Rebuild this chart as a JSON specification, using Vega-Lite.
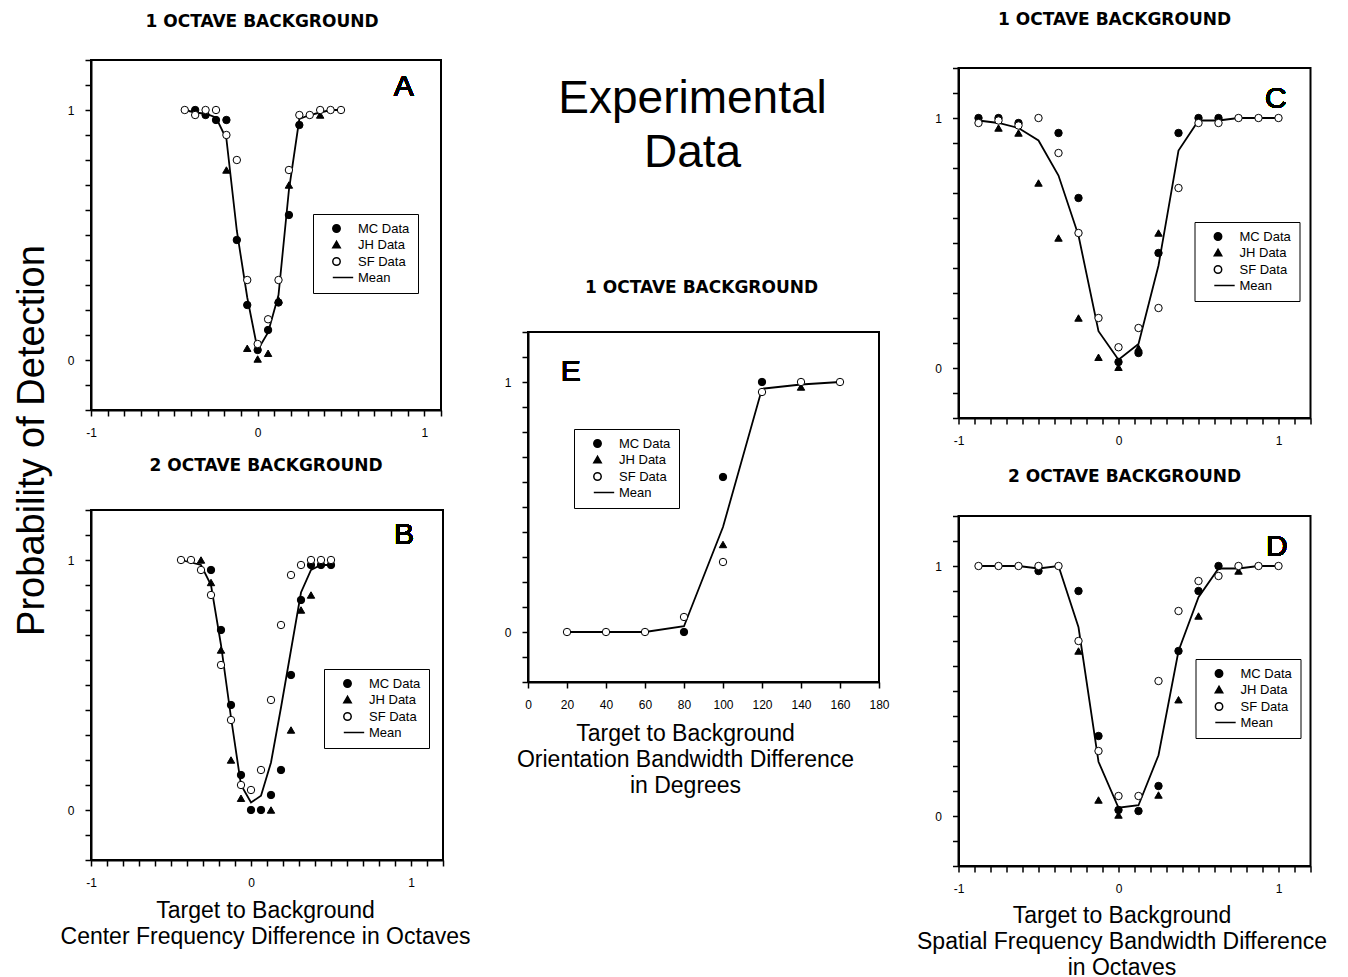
{
"$schema": "https://vega.github.io/schema/vega-lite/v6.json",
"padding": {"left": 12, "top": 10, "right": 5, "bottom": 2},
"datasets": {
"A": [
{"x":-0.4375,"y":1.0,"series":"Mean"},{"x":-0.375,"y":0.99,"series":"Mean"},{"x":-0.3125,"y":0.985,"series":"Mean"},{"x":-0.25,"y":0.97,"series":"Mean"},{"x":-0.1875,"y":0.884,"series":"Mean"},{"x":-0.125,"y":0.517,"series":"Mean"},{"x":-0.0625,"y":0.25,"series":"Mean"},{"x":0,"y":0.04,"series":"Mean"},{"x":0.0625,"y":0.11,"series":"Mean"},{"x":0.125,"y":0.26,"series":"Mean"},{"x":0.1875,"y":0.68,"series":"Mean"},{"x":0.25,"y":0.964,"series":"Mean"},{"x":0.3125,"y":0.98,"series":"Mean"},{"x":0.375,"y":0.99,"series":"Mean"},{"x":0.4375,"y":1.0,"series":"Mean"},{"x":0.5,"y":1.0,"series":"Mean"},
{"x":-0.375,"y":1.0,"series":"MC Data"},{"x":-0.3125,"y":0.98,"series":"MC Data"},{"x":-0.25,"y":0.96,"series":"MC Data"},{"x":-0.1875,"y":0.96,"series":"MC Data"},{"x":-0.125,"y":0.48,"series":"MC Data"},{"x":-0.0625,"y":0.22,"series":"MC Data"},{"x":0,"y":0.04,"series":"MC Data"},{"x":0.0625,"y":0.12,"series":"MC Data"},{"x":0.125,"y":0.23,"series":"MC Data"},{"x":0.1875,"y":0.58,"series":"MC Data"},{"x":0.25,"y":0.94,"series":"MC Data"},
{"x":-0.1875,"y":0.76,"series":"JH Data"},{"x":-0.0625,"y":0.047,"series":"JH Data"},{"x":0,"y":0.004,"series":"JH Data"},{"x":0.0625,"y":0.027,"series":"JH Data"},{"x":0.125,"y":0.24,"series":"JH Data"},{"x":0.1875,"y":0.7,"series":"JH Data"},{"x":0.375,"y":0.98,"series":"JH Data"},
{"x":-0.4375,"y":1.0,"series":"SF Data"},{"x":-0.375,"y":0.98,"series":"SF Data"},{"x":-0.3125,"y":1.0,"series":"SF Data"},{"x":-0.25,"y":1.0,"series":"SF Data"},{"x":-0.1875,"y":0.9,"series":"SF Data"},{"x":-0.125,"y":0.8,"series":"SF Data"},{"x":-0.0625,"y":0.32,"series":"SF Data"},{"x":0,"y":0.064,"series":"SF Data"},{"x":0.0625,"y":0.163,"series":"SF Data"},{"x":0.125,"y":0.32,"series":"SF Data"},{"x":0.1875,"y":0.76,"series":"SF Data"},{"x":0.25,"y":0.98,"series":"SF Data"},{"x":0.3125,"y":0.98,"series":"SF Data"},{"x":0.375,"y":1.0,"series":"SF Data"},{"x":0.4375,"y":1.0,"series":"SF Data"},{"x":0.5,"y":1.0,"series":"SF Data"}
],
"B": [
{"x":-0.4375,"y":1.0,"series":"Mean"},{"x":-0.375,"y":0.99,"series":"Mean"},{"x":-0.3125,"y":0.98,"series":"Mean"},{"x":-0.25,"y":0.9,"series":"Mean"},{"x":-0.1875,"y":0.66,"series":"Mean"},{"x":-0.125,"y":0.37,"series":"Mean"},{"x":-0.0625,"y":0.1,"series":"Mean"},{"x":0,"y":0.03,"series":"Mean"},{"x":0.0625,"y":0.057,"series":"Mean"},{"x":0.125,"y":0.19,"series":"Mean"},{"x":0.1875,"y":0.41,"series":"Mean"},{"x":0.25,"y":0.64,"series":"Mean"},{"x":0.3125,"y":0.87,"series":"Mean"},{"x":0.375,"y":0.96,"series":"Mean"},{"x":0.4375,"y":0.98,"series":"Mean"},{"x":0.5,"y":0.98,"series":"Mean"},
{"x":-0.25,"y":0.96,"series":"MC Data"},{"x":-0.1875,"y":0.72,"series":"MC Data"},{"x":-0.125,"y":0.42,"series":"MC Data"},{"x":-0.0625,"y":0.14,"series":"MC Data"},{"x":0,"y":0.0,"series":"MC Data"},{"x":0.0625,"y":0.0,"series":"MC Data"},{"x":0.125,"y":0.06,"series":"MC Data"},{"x":0.1875,"y":0.16,"series":"MC Data"},{"x":0.25,"y":0.54,"series":"MC Data"},{"x":0.3125,"y":0.84,"series":"MC Data"},{"x":0.375,"y":0.98,"series":"MC Data"},{"x":0.4375,"y":0.98,"series":"MC Data"},{"x":0.5,"y":0.98,"series":"MC Data"},
{"x":-0.3125,"y":1.0,"series":"JH Data"},{"x":-0.25,"y":0.91,"series":"JH Data"},{"x":-0.1875,"y":0.64,"series":"JH Data"},{"x":-0.125,"y":0.2,"series":"JH Data"},{"x":-0.0625,"y":0.047,"series":"JH Data"},{"x":0.125,"y":0.0,"series":"JH Data"},{"x":0.25,"y":0.32,"series":"JH Data"},{"x":0.3125,"y":0.8,"series":"JH Data"},{"x":0.375,"y":0.86,"series":"JH Data"},{"x":0.4375,"y":0.99,"series":"JH Data"},
{"x":-0.4375,"y":1.0,"series":"SF Data"},{"x":-0.375,"y":1.0,"series":"SF Data"},{"x":-0.3125,"y":0.96,"series":"SF Data"},{"x":-0.25,"y":0.86,"series":"SF Data"},{"x":-0.1875,"y":0.58,"series":"SF Data"},{"x":-0.125,"y":0.36,"series":"SF Data"},{"x":-0.0625,"y":0.1,"series":"SF Data"},{"x":0,"y":0.08,"series":"SF Data"},{"x":0.0625,"y":0.16,"series":"SF Data"},{"x":0.125,"y":0.44,"series":"SF Data"},{"x":0.1875,"y":0.74,"series":"SF Data"},{"x":0.25,"y":0.94,"series":"SF Data"},{"x":0.3125,"y":0.98,"series":"SF Data"},{"x":0.375,"y":1.0,"series":"SF Data"},{"x":0.4375,"y":1.0,"series":"SF Data"},{"x":0.5,"y":1.0,"series":"SF Data"}
],
"C": [
{"x":-0.875,"y":0.99,"series":"Mean"},{"x":-0.75,"y":0.98,"series":"Mean"},{"x":-0.625,"y":0.96,"series":"Mean"},{"x":-0.5,"y":0.91,"series":"Mean"},{"x":-0.375,"y":0.77,"series":"Mean"},{"x":-0.25,"y":0.53,"series":"Mean"},{"x":-0.125,"y":0.147,"series":"Mean"},{"x":0,"y":0.033,"series":"Mean"},{"x":0.125,"y":0.096,"series":"Mean"},{"x":0.25,"y":0.41,"series":"Mean"},{"x":0.375,"y":0.87,"series":"Mean"},{"x":0.5,"y":0.99,"series":"Mean"},{"x":0.625,"y":0.99,"series":"Mean"},{"x":0.75,"y":1.0,"series":"Mean"},{"x":0.875,"y":1.0,"series":"Mean"},{"x":1.0,"y":1.0,"series":"Mean"},
{"x":-0.875,"y":1.0,"series":"MC Data"},{"x":-0.75,"y":1.0,"series":"MC Data"},{"x":-0.625,"y":0.98,"series":"MC Data"},{"x":-0.375,"y":0.94,"series":"MC Data"},{"x":-0.25,"y":0.68,"series":"MC Data"},{"x":0,"y":0.024,"series":"MC Data"},{"x":0.125,"y":0.06,"series":"MC Data"},{"x":0.25,"y":0.46,"series":"MC Data"},{"x":0.375,"y":0.94,"series":"MC Data"},{"x":0.5,"y":1.0,"series":"MC Data"},{"x":0.625,"y":1.0,"series":"MC Data"},
{"x":-0.75,"y":0.96,"series":"JH Data"},{"x":-0.625,"y":0.94,"series":"JH Data"},{"x":-0.5,"y":0.74,"series":"JH Data"},{"x":-0.375,"y":0.52,"series":"JH Data"},{"x":-0.25,"y":0.2,"series":"JH Data"},{"x":-0.125,"y":0.043,"series":"JH Data"},{"x":0,"y":0.003,"series":"JH Data"},{"x":0.125,"y":0.08,"series":"JH Data"},{"x":0.25,"y":0.54,"series":"JH Data"},
{"x":-0.875,"y":0.98,"series":"SF Data"},{"x":-0.75,"y":0.99,"series":"SF Data"},{"x":-0.625,"y":0.97,"series":"SF Data"},{"x":-0.5,"y":1.0,"series":"SF Data"},{"x":-0.375,"y":0.86,"series":"SF Data"},{"x":-0.25,"y":0.54,"series":"SF Data"},{"x":-0.125,"y":0.2,"series":"SF Data"},{"x":0,"y":0.083,"series":"SF Data"},{"x":0.125,"y":0.16,"series":"SF Data"},{"x":0.25,"y":0.24,"series":"SF Data"},{"x":0.375,"y":0.72,"series":"SF Data"},{"x":0.5,"y":0.98,"series":"SF Data"},{"x":0.625,"y":0.98,"series":"SF Data"},{"x":0.75,"y":1.0,"series":"SF Data"},{"x":0.875,"y":1.0,"series":"SF Data"},{"x":1.0,"y":1.0,"series":"SF Data"}
],
"D": [
{"x":-0.875,"y":1.0,"series":"Mean"},{"x":-0.75,"y":1.0,"series":"Mean"},{"x":-0.625,"y":1.0,"series":"Mean"},{"x":-0.5,"y":0.99,"series":"Mean"},{"x":-0.375,"y":1.0,"series":"Mean"},{"x":-0.25,"y":0.755,"series":"Mean"},{"x":-0.125,"y":0.217,"series":"Mean"},{"x":0,"y":0.033,"series":"Mean"},{"x":0.125,"y":0.043,"series":"Mean"},{"x":0.25,"y":0.243,"series":"Mean"},{"x":0.375,"y":0.66,"series":"Mean"},{"x":0.5,"y":0.875,"series":"Mean"},{"x":0.625,"y":0.99,"series":"Mean"},{"x":0.75,"y":0.99,"series":"Mean"},{"x":0.875,"y":1.0,"series":"Mean"},{"x":1.0,"y":1.0,"series":"Mean"},
{"x":-0.5,"y":0.98,"series":"MC Data"},{"x":-0.25,"y":0.9,"series":"MC Data"},{"x":-0.125,"y":0.32,"series":"MC Data"},{"x":0,"y":0.024,"series":"MC Data"},{"x":0.125,"y":0.02,"series":"MC Data"},{"x":0.25,"y":0.12,"series":"MC Data"},{"x":0.375,"y":0.66,"series":"MC Data"},{"x":0.5,"y":0.9,"series":"MC Data"},{"x":0.625,"y":1.0,"series":"MC Data"},
{"x":-0.25,"y":0.66,"series":"JH Data"},{"x":-0.125,"y":0.064,"series":"JH Data"},{"x":0,"y":0.004,"series":"JH Data"},{"x":0.25,"y":0.084,"series":"JH Data"},{"x":0.375,"y":0.465,"series":"JH Data"},{"x":0.5,"y":0.8,"series":"JH Data"},{"x":0.75,"y":0.98,"series":"JH Data"},
{"x":-0.875,"y":1.0,"series":"SF Data"},{"x":-0.75,"y":1.0,"series":"SF Data"},{"x":-0.625,"y":1.0,"series":"SF Data"},{"x":-0.5,"y":1.0,"series":"SF Data"},{"x":-0.375,"y":1.0,"series":"SF Data"},{"x":-0.25,"y":0.7,"series":"SF Data"},{"x":-0.125,"y":0.26,"series":"SF Data"},{"x":0,"y":0.08,"series":"SF Data"},{"x":0.125,"y":0.08,"series":"SF Data"},{"x":0.25,"y":0.54,"series":"SF Data"},{"x":0.375,"y":0.82,"series":"SF Data"},{"x":0.5,"y":0.94,"series":"SF Data"},{"x":0.625,"y":0.96,"series":"SF Data"},{"x":0.75,"y":1.0,"series":"SF Data"},{"x":0.875,"y":1.0,"series":"SF Data"},{"x":1.0,"y":1.0,"series":"SF Data"}
],
"E": [
{"x":20,"y":0,"series":"Mean"},{"x":40,"y":0,"series":"Mean"},{"x":60,"y":0,"series":"Mean"},{"x":80,"y":0.023,"series":"Mean"},{"x":100,"y":0.42,"series":"Mean"},{"x":120,"y":0.973,"series":"Mean"},{"x":140,"y":0.99,"series":"Mean"},{"x":160,"y":1.0,"series":"Mean"},
{"x":80,"y":0.0,"series":"MC Data"},{"x":100,"y":0.62,"series":"MC Data"},{"x":120,"y":1.0,"series":"MC Data"},
{"x":100,"y":0.35,"series":"JH Data"},{"x":140,"y":0.98,"series":"JH Data"},
{"x":20,"y":0,"series":"SF Data"},{"x":40,"y":0,"series":"SF Data"},{"x":60,"y":0,"series":"SF Data"},{"x":80,"y":0.06,"series":"SF Data"},{"x":100,"y":0.28,"series":"SF Data"},{"x":120,"y":0.96,"series":"SF Data"},{"x":140,"y":1.0,"series":"SF Data"},{"x":160,"y":1.0,"series":"SF Data"}
]
},
"spacing": 32,
"resolve": {"scale": {"shape": "independent", "fill": "independent", "stroke": "independent"}, "legend": {"shape": "independent", "fill": "independent", "stroke": "independent"}},
"hconcat": [
{
"bounds": "flush",
"spacing": 100,
"resolve": {"scale": {"shape": "independent", "fill": "independent", "stroke": "independent"}, "legend": {"shape": "independent", "fill": "independent", "stroke": "independent"}},
"vconcat": [
{
"width": 350, "height": 350,
"title": {"text": "1 OCTAVE BACKGROUND", "offset": 23, "dx": -4},
"data": {"name": "A"},
"encoding": {
"x": {"field": "x", "type": "quantitative", "scale": {"domain": [-1, 1.1], "nice": false, "zero": false}, "axis": {"values": [-1,-0.9,-0.8,-0.7,-0.6,-0.5,-0.4,-0.3,-0.2,-0.1,0,0.1,0.2,0.3,0.4,0.5,0.6,0.7,0.8,0.9,1,1.1], "labelExpr": "datum.value == -1 ? '-1' : datum.value == 0 ? '0' : datum.value == 1 ? '1' : ''", "title": null}},
"y": {"field": "y", "type": "quantitative", "scale": {"domain": [-0.2, 1.2], "nice": false, "zero": false}, "axis": {"values": [-0.2,-0.1,0,0.1,0.2,0.3,0.4,0.5,0.6,0.7,0.8,0.9,1,1.1,1.2], "labelExpr": "datum.value == 0 ? '0' : datum.value == 1 ? '1' : ''", "title": "Probability of Detection", "titleFontSize": 38, "titleAngle": 270, "titleAlign": "center", "titleBaseline": "alphabetic", "titleX": -48, "titleY": 380}}
},
"layer": [
{"transform": [{"filter": "datum.series == 'Mean'"}], "mark": {"type": "line", "color": "black", "strokeWidth": 1.8}},
{"transform": [{"filter": "datum.series != 'Mean'"}], "mark": {"type": "point", "filled": true, "opacity": 1, "strokeWidth": 1, "size": 55},
 "encoding": {
  "shape": {"field": "series", "type": "nominal", "scale": {"domain": ["MC Data","JH Data","SF Data","Mean"], "range": ["circle","triangle-up","circle","M-1,0H4.5"]}, "legend": {"title": null, "legendX": 222, "legendY": 154}},
  "fill": {"field": "series", "type": "nominal", "scale": {"domain": ["MC Data","JH Data","SF Data","Mean"], "range": ["black","black","white","black"]}, "legend": {"title": null, "legendX": 222, "legendY": 154}},
  "stroke": {"field": "series", "type": "nominal", "scale": {"domain": ["MC Data","JH Data","SF Data","Mean"], "range": ["black","black","black","black"]}, "legend": {"title": null, "legendX": 222, "legendY": 154}}
 }},
{"mark": {"type": "text", "fontSize": 30, "font": "Liberation Sans", "color": "black"},
 "encoding": {"x": {"datum": 0.876, "type": "quantitative"}, "y": {"datum": 1.093, "type": "quantitative"}, "text": {"value": "A"}}}
]
},
{
"width": 352, "height": 350,
"title": {"text": "2 OCTAVE BACKGROUND", "offset": 29, "dx": -1},
"data": {"name": "B"},
"encoding": {
"x": {"field": "x", "type": "quantitative", "scale": {"domain": [-1, 1.2], "nice": false, "zero": false}, "axis": {"values": [-1,-0.9,-0.8,-0.7,-0.6,-0.5,-0.4,-0.3,-0.2,-0.1,0,0.1,0.2,0.3,0.4,0.5,0.6,0.7,0.8,0.9,1,1.1,1.2], "labelExpr": "datum.value == -1 ? '-1' : datum.value == 0 ? '0' : datum.value == 1 ? '1' : ''", "title": ["Target to Background", "Center Frequency Difference in Octaves"], "titleAlign": "center", "titleBaseline": "top", "titleAngle": 0, "titleX": 174, "titleY": 39}},
"y": {"field": "y", "type": "quantitative", "scale": {"domain": [-0.2, 1.2], "nice": false, "zero": false}, "axis": {"values": [-0.2,-0.1,0,0.1,0.2,0.3,0.4,0.5,0.6,0.7,0.8,0.9,1,1.1,1.2], "labelExpr": "datum.value == 0 ? '0' : datum.value == 1 ? '1' : ''", "title": null}}
},
"layer": [
{"transform": [{"filter": "datum.series == 'Mean'"}], "mark": {"type": "line", "color": "black", "strokeWidth": 1.8}},
{"transform": [{"filter": "datum.series != 'Mean'"}], "mark": {"type": "point", "filled": true, "opacity": 1, "strokeWidth": 1, "size": 55},
 "encoding": {
  "shape": {"field": "series", "type": "nominal", "scale": {"domain": ["MC Data","JH Data","SF Data","Mean"], "range": ["circle","triangle-up","circle","M-1,0H4.5"]}, "legend": {"title": null, "legendX": 233, "legendY": 159}},
  "fill": {"field": "series", "type": "nominal", "scale": {"domain": ["MC Data","JH Data","SF Data","Mean"], "range": ["black","black","white","black"]}, "legend": {"title": null, "legendX": 233, "legendY": 159}},
  "stroke": {"field": "series", "type": "nominal", "scale": {"domain": ["MC Data","JH Data","SF Data","Mean"], "range": ["black","black","black","black"]}, "legend": {"title": null, "legendX": 233, "legendY": 159}}
 }},
{"mark": {"type": "text", "fontSize": 30, "font": "Liberation Sans", "color": "black"},
 "encoding": {"x": {"datum": 0.957, "type": "quantitative"}, "y": {"datum": 1.099, "type": "quantitative"}, "text": {"value": "B"}}}
]
}
]
},
{
"spacing": 24.5,
"resolve": {"scale": {"shape": "independent", "fill": "independent", "stroke": "independent"}, "legend": {"shape": "independent", "fill": "independent", "stroke": "independent"}},
"hconcat": [
{
"bounds": "flush",
"spacing": 194,
"resolve": {"scale": {"shape": "independent", "fill": "independent", "stroke": "independent"}, "legend": {"shape": "independent", "fill": "independent", "stroke": "independent"}},
"vconcat": [
{
"width": 351, "height": 78,
"view": {"stroke": null},
"data": {"values": [{"label": "Experimental Data"}]},
"mark": {"type": "text", "font": "Liberation Sans", "fontSize": 46, "lineBreak": " ", "lineHeight": 54, "dx": -11, "color": "black"},
"encoding": {"text": {"field": "label", "type": "nominal"}}
},
{
"width": 351, "height": 350,
"title": {"text": "1 OCTAVE BACKGROUND", "offset": 29, "dx": -2},
"data": {"name": "E"},
"encoding": {
"x": {"field": "x", "type": "quantitative", "scale": {"domain": [0, 180], "nice": false, "zero": false}, "axis": {"values": [0,20,40,60,80,100,120,140,160,180], "format": "d", "title": ["Target to Background", "Orientation Bandwidth Difference", "in Degrees"], "titleAlign": "center", "titleBaseline": "top", "titleAngle": 0, "titleX": 157, "titleY": 40}},
"y": {"field": "y", "type": "quantitative", "scale": {"domain": [-0.2, 1.2], "nice": false, "zero": false}, "axis": {"values": [-0.2,-0.1,0,0.1,0.2,0.3,0.4,0.5,0.6,0.7,0.8,0.9,1,1.1,1.2], "labelExpr": "datum.value == 0 ? '0' : datum.value == 1 ? '1' : ''", "title": null}}
},
"layer": [
{"transform": [{"filter": "datum.series == 'Mean'"}], "mark": {"type": "line", "color": "black", "strokeWidth": 1.8}},
{"transform": [{"filter": "datum.series != 'Mean'"}], "mark": {"type": "point", "filled": true, "opacity": 1, "strokeWidth": 1, "size": 55},
 "encoding": {
  "shape": {"field": "series", "type": "nominal", "scale": {"domain": ["MC Data","JH Data","SF Data","Mean"], "range": ["circle","triangle-up","circle","M-1,0H4.5"]}, "legend": {"title": null, "legendX": 46, "legendY": 97}},
  "fill": {"field": "series", "type": "nominal", "scale": {"domain": ["MC Data","JH Data","SF Data","Mean"], "range": ["black","black","white","black"]}, "legend": {"title": null, "legendX": 46, "legendY": 97}},
  "stroke": {"field": "series", "type": "nominal", "scale": {"domain": ["MC Data","JH Data","SF Data","Mean"], "range": ["black","black","black","black"]}, "legend": {"title": null, "legendX": 46, "legendY": 97}}
 }},
{"mark": {"type": "text", "fontSize": 30, "font": "Liberation Sans", "color": "black"},
 "encoding": {"x": {"datum": 21.9, "type": "quantitative"}, "y": {"datum": 1.04, "type": "quantitative"}, "text": {"value": "E"}}}
]
}
]
},
{
"bounds": "flush",
"spacing": 7,
"resolve": {"scale": {"shape": "independent", "fill": "independent", "stroke": "independent"}, "legend": {"shape": "independent", "fill": "independent", "stroke": "independent"}},
"vconcat": [
{
"width": 352, "height": 1,
"view": {"stroke": null},
"data": {"values": [{"label": ""}]},
"mark": {"type": "text"},
"encoding": {"text": {"field": "label", "type": "nominal"}}
},
{
"bounds": "flush",
"spacing": 98,
"resolve": {"scale": {"shape": "independent", "fill": "independent", "stroke": "independent"}, "legend": {"shape": "independent", "fill": "independent", "stroke": "independent"}},
"vconcat": [
{
"width": 352, "height": 350,
"title": {"text": "1 OCTAVE BACKGROUND", "offset": 33, "dx": -20},
"data": {"name": "C"},
"encoding": {
"x": {"field": "x", "type": "quantitative", "scale": {"domain": [-1, 1.2], "nice": false, "zero": false}, "axis": {"values": [-1,-0.9,-0.8,-0.7,-0.6,-0.5,-0.4,-0.3,-0.2,-0.1,0,0.1,0.2,0.3,0.4,0.5,0.6,0.7,0.8,0.9,1,1.1,1.2], "labelExpr": "datum.value == -1 ? '-1' : datum.value == 0 ? '0' : datum.value == 1 ? '1' : ''", "title": null}},
"y": {"field": "y", "type": "quantitative", "scale": {"domain": [-0.2, 1.2], "nice": false, "zero": false}, "axis": {"values": [-0.2,-0.1,0,0.1,0.2,0.3,0.4,0.5,0.6,0.7,0.8,0.9,1,1.1,1.2], "labelExpr": "datum.value == 0 ? '0' : datum.value == 1 ? '1' : ''", "title": null}}
},
"layer": [
{"transform": [{"filter": "datum.series == 'Mean'"}], "mark": {"type": "line", "color": "black", "strokeWidth": 1.8}},
{"transform": [{"filter": "datum.series != 'Mean'"}], "mark": {"type": "point", "filled": true, "opacity": 1, "strokeWidth": 1, "size": 55},
 "encoding": {
  "shape": {"field": "series", "type": "nominal", "scale": {"domain": ["MC Data","JH Data","SF Data","Mean"], "range": ["circle","triangle-up","circle","M-1,0H4.5"]}, "legend": {"title": null, "legendX": 236, "legendY": 154}},
  "fill": {"field": "series", "type": "nominal", "scale": {"domain": ["MC Data","JH Data","SF Data","Mean"], "range": ["black","black","white","black"]}, "legend": {"title": null, "legendX": 236, "legendY": 154}},
  "stroke": {"field": "series", "type": "nominal", "scale": {"domain": ["MC Data","JH Data","SF Data","Mean"], "range": ["black","black","black","black"]}, "legend": {"title": null, "legendX": 236, "legendY": 154}}
 }},
{"mark": {"type": "text", "fontSize": 30, "font": "Liberation Sans", "color": "black"},
 "encoding": {"x": {"datum": 0.983, "type": "quantitative"}, "y": {"datum": 1.075, "type": "quantitative"}, "text": {"value": "C"}}}
]
},
{
"width": 352, "height": 350,
"title": {"text": "2 OCTAVE BACKGROUND", "offset": 24, "dx": -10},
"data": {"name": "D"},
"encoding": {
"x": {"field": "x", "type": "quantitative", "scale": {"domain": [-1, 1.2], "nice": false, "zero": false}, "axis": {"values": [-1,-0.9,-0.8,-0.7,-0.6,-0.5,-0.4,-0.3,-0.2,-0.1,0,0.1,0.2,0.3,0.4,0.5,0.6,0.7,0.8,0.9,1,1.1,1.2], "labelExpr": "datum.value == -1 ? '-1' : datum.value == 0 ? '0' : datum.value == 1 ? '1' : ''", "title": ["Target to Background", "Spatial Frequency Bandwidth Difference", "in Octaves"], "titleAlign": "center", "titleBaseline": "top", "titleAngle": 0, "titleX": 163, "titleY": 38}},
"y": {"field": "y", "type": "quantitative", "scale": {"domain": [-0.2, 1.2], "nice": false, "zero": false}, "axis": {"values": [-0.2,-0.1,0,0.1,0.2,0.3,0.4,0.5,0.6,0.7,0.8,0.9,1,1.1,1.2], "labelExpr": "datum.value == 0 ? '0' : datum.value == 1 ? '1' : ''", "title": null}}
},
"layer": [
{"transform": [{"filter": "datum.series == 'Mean'"}], "mark": {"type": "line", "color": "black", "strokeWidth": 1.8}},
{"transform": [{"filter": "datum.series != 'Mean'"}], "mark": {"type": "point", "filled": true, "opacity": 1, "strokeWidth": 1, "size": 55},
 "encoding": {
  "shape": {"field": "series", "type": "nominal", "scale": {"domain": ["MC Data","JH Data","SF Data","Mean"], "range": ["circle","triangle-up","circle","M-1,0H4.5"]}, "legend": {"title": null, "legendX": 237, "legendY": 143}},
  "fill": {"field": "series", "type": "nominal", "scale": {"domain": ["MC Data","JH Data","SF Data","Mean"], "range": ["black","black","white","black"]}, "legend": {"title": null, "legendX": 237, "legendY": 143}},
  "stroke": {"field": "series", "type": "nominal", "scale": {"domain": ["MC Data","JH Data","SF Data","Mean"], "range": ["black","black","black","black"]}, "legend": {"title": null, "legendX": 237, "legendY": 143}}
 }},
{"mark": {"type": "text", "fontSize": 30, "font": "Liberation Sans", "color": "black"},
 "encoding": {"x": {"datum": 0.99, "type": "quantitative"}, "y": {"datum": 1.076, "type": "quantitative"}, "text": {"value": "D"}}}
]
}
]
}
]
}
]
}
],
"config": {
"font": "Liberation Sans",
"view": {"stroke": "black", "strokeWidth": 2},
"axis": {"domainColor": "black", "domainWidth": 2, "tickColor": "black", "tickWidth": 1.5, "tickSize": 6, "labelColor": "black", "labelFont": "Liberation Sans", "labelFontSize": 12, "labelPadding": 11, "grid": false, "labelFlush": false, "labelOverlap": false, "titleColor": "black", "titleFont": "Liberation Sans", "titleFontWeight": "normal", "titleFontSize": 23, "titleLineHeight": 26},
"legend": {"orient": "none", "strokeColor": "black", "strokeWidth": 1, "fillColor": "white", "padding": 8, "labelFont": "Liberation Sans", "labelFontSize": 13, "labelColor": "black", "symbolSize": 55, "symbolStrokeWidth": 1.5, "rowPadding": 2, "labelOffset": 15, "symbolOffset": 9},
"title": {"font": "DejaVu Sans", "fontSize": 17, "fontWeight": "bold", "color": "black", "frame": "group", "anchor": "middle", "baseline": "alphabetic"}
}
}
